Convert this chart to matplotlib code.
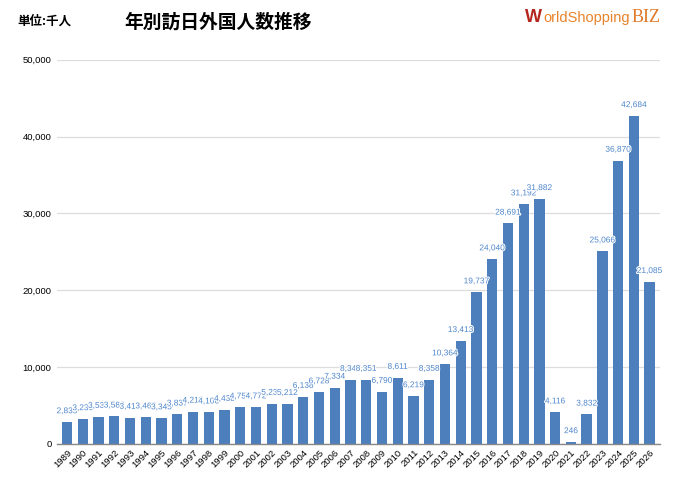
import matplotlib.pyplot as plt
import numpy as np
from matplotlib.ticker import FuncFormatter
import matplotlib.patheffects as pe

plt.rcParams['font.family'] = ['Noto Sans CJK JP', 'DejaVu Sans']

# visitors per year, in thousands
years = [str(y) for y in range(1989, 2027)]
visitors = [2835, 3236, 3533, 3582, 3410, 3468, 3345, 3837, 4218, 4106,
            4438, 4757, 4772, 5239, 5212, 6138, 6728, 7334, 8347, 8351,
            6790, 8611, 6219, 8358, 10364, 13413, 19737, 24040, 28691, 31192,
            31882, 4116, 246, 3832, 25066, 36870, 42684, 21085]
yticks = [0, 10000, 20000, 30000, 40000, 50000]

bar_color = '#4e7fbd'
label_color = '#4f86cc'

fig = plt.figure(figsize=(6.8, 4.82), dpi=100)
ax = fig.add_axes([0.084, 0.079, 0.886, 0.797])

x = np.arange(len(years))
ax.bar(x, visitors, width=0.66, color=bar_color, zorder=2)

for xi, v in zip(x, visitors):
    ax.text(xi, v + 900, f'{v:,}', ha='center', va='bottom', fontsize=6.0,
            color=label_color, zorder=3, family='Liberation Sans',
            path_effects=[pe.withStroke(linewidth=1.5, foreground='white')])

ax.set_xlim(-0.63, len(years) - 1 + 0.63)
ax.set_ylim(0, 50000)
ax.set_yticks(yticks)
ax.yaxis.set_major_formatter(FuncFormatter(lambda v, p: f'{int(v):,}'))
ax.set_xticks(x)
ax.set_xticklabels(years, rotation=45, ha='right', rotation_mode='anchor',
                   fontsize=6.8, family='Liberation Sans')
for t in ax.get_yticklabels():
    t.set_family('Liberation Sans')
ax.tick_params(axis='y', length=0, labelsize=6.8, pad=4)
ax.tick_params(axis='x', length=0, pad=3)
ax.grid(axis='y', color='#dddddd', linewidth=0.9, zorder=0)
for s in ['top', 'right', 'left']:
    ax.spines[s].set_visible(False)
ax.spines['bottom'].set_color('#888888')
ax.spines['bottom'].set_linewidth(1.0)
ax.spines['bottom'].set_zorder(3)

fig.text(0.026, 0.957, '単位:千人', fontsize=9, fontweight='bold', va='center')
fig.text(0.183, 0.953, '年別訪日外国人数推移', fontsize=13.5, fontweight='bold', va='center')

# logo as text, pieces placed one after another
renderer = fig.canvas.get_renderer()
pieces = [('W', 13, '#b5261e', 'Liberation Sans', 'bold'),
          ('orldShopping', 10.5, '#e8832a', 'Liberation Sans', 'normal'),
          ('BIZ', 13, '#e07a28', 'Liberation Serif', 'normal')]
xpos = 0.772
for txt, size, col, fam, wt in pieces:
    t = fig.text(xpos, 0.963, txt, fontsize=size, color=col, family=fam,
                 fontweight=wt, va='center')
    bb = t.get_window_extent(renderer)
    xpos += bb.width / fig.bbox.width + 0.002

plt.savefig('out.png', dpi=100)
